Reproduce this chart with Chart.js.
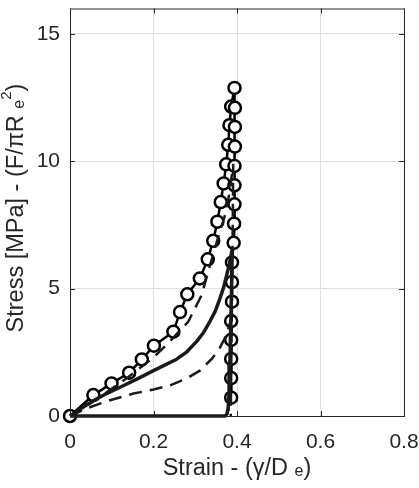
<!DOCTYPE html>
<html>
<head>
<meta charset="utf-8">
<script src="https://cdn.jsdelivr.net/npm/chart.js@4"></script>
<style>
  body { margin: 0; background: #fff; }
  canvas { display: block; }
</style>
</head>
<body>
<canvas id="chart" width="419" height="488"></canvas>
<script>
// experiment: circles (loading + unloading)
const expStrain = [0, 0.056, 0.0995, 0.1417, 0.172, 0.201, 0.2476, 0.2635, 0.281, 0.311, 0.330, 0.343,
    0.353, 0.361, 0.368, 0.374, 0.379, 0.382, 0.386, 0.394,
    0.395, 0.395, 0.395, 0.394, 0.394, 0.394, 0.393, 0.392, 0.388, 0.388, 0.388, 0.386, 0.386, 0.386, 0.386, 0.386];
const expStress = [0, 0.82, 1.28, 1.70, 2.22, 2.76, 3.31, 4.08, 4.78, 5.40, 6.15, 6.88,
    7.63, 8.40, 9.13, 9.88, 10.65, 11.42, 12.15, 12.88,
    12.10, 11.35, 10.58, 9.82, 9.06, 8.31, 7.55, 6.80, 6.03, 5.26, 4.49, 3.73, 2.99, 2.24, 1.49, 0.72];

// model: solid line
const modelStrain = [0, 0.030, 0.058, 0.090, 0.120, 0.160, 0.200, 0.2555, 0.2800, 0.3035, 0.320, 0.335, 0.348, 0.359, 0.368, 0.375, 0.382, 0.387, 0.3885,
    0.387, 0.385, 0.383, 0.381, 0.379, 0.376, 0.372, 0];
const modelStress = [0, 0.33, 0.62, 0.90, 1.13, 1.45, 1.78, 2.23, 2.52, 2.93, 3.28, 3.71, 4.12, 4.61, 5.05, 5.51, 5.98, 6.41, 6.55,
    5.0, 3.5, 2.0, 0.9, 0.35, 0.08, 0, 0];

// upper bound: dashed
const upperStrain = [0, 0.066, 0.138, 0.1996, 0.2395, 0.283, 0.315, 0.335, 0.351, 0.362, 0.375, 0.384, 0.391, 0.389, 0.387, 0.385];
const upperStress = [0, 0.68, 1.51, 2.29, 2.93, 3.70, 4.74, 5.90, 6.80, 7.40, 8.08, 9.00, 9.90, 6.0, 3.0, 0];

// lower bound: dashed
const lowerStrain = [0, 0.045, 0.090, 0.152, 0.200, 0.2395, 0.280, 0.311, 0.340, 0.359, 0.375, 0.384, 0.383, 0.381, 0.379];
const lowerStress = [0, 0.33, 0.59, 0.88, 1.04, 1.20, 1.48, 1.78, 2.25, 2.68, 3.19, 3.70, 2.0, 0.7, 0];

const xTicks = [0, 0.2, 0.4, 0.6, 0.8];
const yTicks = [0, 5, 10, 15];

const FONT = "'Liberation Sans', Arial, sans-serif";
const INK = '#262626';

function toPoints(xs, ys) {
    return xs.map((x, i) => ({ x: x, y: ys[i] }));
}

function drawRich(ctx, parts, cx, cy) {
    let total = 0;
    parts.forEach(p => {
        ctx.font = p.s + 'px ' + FONT;
        p.w = ctx.measureText(p.t).width;
        total += p.w;
    });
    let x = cx - total / 2;
    parts.forEach(p => {
        ctx.font = p.s + 'px ' + FONT;
        ctx.fillText(p.t, x, cy + (p.dy || 0));
        x += p.w;
    });
}

// box, inward ticks and the two axis titles
const framePlugin = {
    id: 'frame',
    afterDraw(chart) {
        const ctx = chart.ctx;
        const a = chart.chartArea;
        const xs = chart.scales.x, ys = chart.scales.y;
        ctx.save();
        ctx.strokeStyle = INK;
        ctx.lineWidth = 1;
        ctx.strokeRect(a.left + 0.5, a.top + 0.5, a.right - a.left, a.bottom - a.top);
        ctx.beginPath();
        xTicks.forEach(v => {
            const px = Math.round(xs.getPixelForValue(v)) + 0.5;
            ctx.moveTo(px, a.bottom); ctx.lineTo(px, a.bottom - 5);
            ctx.moveTo(px, a.top); ctx.lineTo(px, a.top + 5);
        });
        yTicks.forEach(v => {
            const py = Math.round(ys.getPixelForValue(v)) + 0.5;
            ctx.moveTo(a.left, py); ctx.lineTo(a.left + 5, py);
            ctx.moveTo(a.right, py); ctx.lineTo(a.right - 5, py);
        });
        ctx.stroke();

        ctx.fillStyle = INK;
        ctx.textBaseline = 'middle';
        ctx.textAlign = 'left';
        drawRich(ctx, [
            { t: 'Strain - (', s: 23.5 },
            { t: 'γ', s: 23.5 },
            { t: '/D ', s: 23.5 },
            { t: 'e', s: 16, dy: 3 },
            { t: ')', s: 23.5 }
        ], (a.left + a.right) / 2, 469);

        ctx.translate(17, 208);
        ctx.rotate(-Math.PI / 2);
        drawRich(ctx, [
            { t: 'Stress [MPa] - (F/', s: 23.5 },
            { t: 'π', s: 23.5 },
            { t: 'R ', s: 23.5 },
            { t: 'e', s: 16, dy: 3 },
            { t: '2', s: 15, dy: -10 },
            { t: ')', s: 23.5 }
        ], 0, 0);
        ctx.restore();
    }
};

new Chart(document.getElementById('chart'), {
    type: 'line',
    data: {
        datasets: [
            {
                label: 'Model',
                data: toPoints(modelStrain, modelStress),
                borderColor: '#1a1a1a',
                borderWidth: 3.5,
                pointRadius: 0,
                borderJoinStyle: 'round',
                order: 0
            },
            {
                label: 'Upper',
                data: toPoints(upperStrain, upperStress),
                borderColor: '#1a1a1a',
                borderWidth: 2.5,
                borderDash: [13, 8],
                pointRadius: 0,
                order: 1
            },
            {
                label: 'Lower',
                data: toPoints(lowerStrain, lowerStress),
                borderColor: '#1a1a1a',
                borderWidth: 2.5,
                borderDash: [13, 8],
                pointRadius: 0,
                order: 2
            },
            {
                label: 'Experiment',
                data: toPoints(expStrain, expStress),
                borderColor: '#000',
                borderWidth: 2.5,
                pointRadius: 6,
                pointBorderWidth: 2.5,
                pointBackgroundColor: '#fff',
                pointBorderColor: '#000',
                order: 3
            }
        ]
    },
    options: {
        responsive: false,
        animation: false,
        clip: false,
        layout: { padding: { top: 2, right: 15, left: 0, bottom: 0 } },
        plugins: {
            legend: { display: false },
            tooltip: { enabled: false }
        },
        scales: {
            x: {
                type: 'linear',
                min: 0,
                max: 0.8,
                afterBuildTicks: s => { s.ticks = xTicks.map(v => ({ value: v })); },
                afterFit: s => { s.height = 72; s.paddingLeft = 0; s.paddingRight = 0; },
                grid: { color: '#dedede', drawTicks: false },
                border: { display: false },
                ticks: {
                    padding: 14,
                    color: INK,
                    font: { family: FONT, size: 21 },
                    maxRotation: 0,
                    callback: v => String(v)
                }
            },
            y: {
                type: 'linear',
                min: 0,
                max: 16,
                afterBuildTicks: s => { s.ticks = yTicks.map(v => ({ value: v })); },
                afterFit: s => { s.width = 70; s.paddingTop = 0; s.paddingBottom = 0; },
                grid: { color: '#dedede', drawTicks: false },
                border: { display: false },
                ticks: {
                    padding: 10,
                    color: INK,
                    font: { family: FONT, size: 21 }
                }
            }
        }
    },
    plugins: [framePlugin]
});
</script>
</body>
</html>
